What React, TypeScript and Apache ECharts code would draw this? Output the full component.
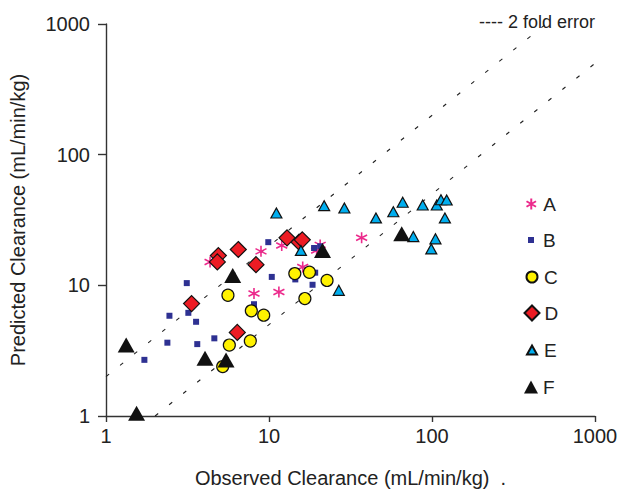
import React, { useEffect, useRef } from "react";
import * as echarts from "echarts";

const FONT = '"Liberation Sans", Arial, Helvetica, sans-serif';

const SERIES_NAMES = ["A", "B", "C", "D", "E", "F"];

const A_X = [4.35, 8.93, 11.97, 8.09, 11.5, 16.1, 20.6, 19.6, 37.0];
const A_Y = [15.1, 18.2, 20.2, 8.65, 8.9, 13.8, 20.4, 18.5, 23.1];

const B_X = [3.13, 2.45, 3.2, 3.57, 2.38, 1.72, 3.63, 4.62, 8.09, 9.9, 10.4, 14.5, 18.9, 20.6, 19.2, 18.5];
const B_Y = [10.4, 5.85, 6.16, 5.26, 3.64, 2.69, 3.55, 3.93, 7.17, 21.4, 11.6, 11.1, 19.3, 19.9, 12.5, 10.1];

const C_X = [5.6, 7.79, 9.28, 5.71, 7.68, 5.2, 14.4, 17.7, 16.6, 22.7];
const C_Y = [8.4, 6.38, 5.91, 3.49, 3.75, 2.39, 12.3, 12.6, 7.92, 10.9];

const D_X = [3.35, 4.89, 4.82, 6.48, 8.32, 6.39, 12.9, 15.3, 16.0];
const D_Y = [7.25, 16.9, 15.1, 18.8, 14.4, 4.36, 23.1, 21.4, 22.3];

const E_X = [11.1, 21.8, 29.0, 15.7, 26.8, 45.3, 57.9, 66.1, 87.7, 107, 113.5, 123, 120, 76.8, 105, 99];
const E_Y = [35.8, 40.7, 39.1, 18.5, 9.16, 32.8, 36.6, 43.2, 41.2, 41.2, 45.2, 45, 32.8, 23.6, 22.7, 19.0];

const F_X = [1.33, 1.54, 4.05, 5.45, 5.99, 21.3, 65.2];
const F_Y = [3.49, 1.05, 2.77, 2.68, 11.9, 18.5, 24.8];

const FOLD_UPPER = [[1, 2], [500, 1000]];
const FOLD_LOWER = [[2, 1], [1000, 500]];

const AXIS_MIN = 1;
const AXIS_MAX = 1000;

const X_TITLE = "Observed Clearance (mL/min/kg)  .";
const Y_TITLE = "Predicted Clearance (mL/min/kg)";
const FOLD_LABEL = "---- 2 fold error";

const zip = (xs: number[], ys: number[]) => xs.map((x, i) => [x, ys[i]]);

const ASTERISK = "path://M5,0L5,10M0.67,2.5L9.33,7.5M9.33,2.5L0.67,7.5";

export default function App() {
  const ref = useRef<HTMLDivElement>(null);

  useEffect(() => {
    if (!ref.current) return;
    const chart = echarts.init(ref.current, null, { renderer: "svg" });

    const styles: Record<string, any> = {
      A: { symbol: ASTERISK, symbolSize: 11, itemStyle: { color: "#ec2a8c", borderColor: "#ec2a8c", borderWidth: 1.6, opacity: 1 }, icon: [11, 11] },
      B: { symbol: "rect", symbolSize: 6, itemStyle: { color: "#2e3192", opacity: 1 }, icon: [6, 6] },
      C: { symbol: "circle", symbolSize: 12, itemStyle: { color: "#fff200", borderColor: "#111", borderWidth: 1.2, opacity: 1 }, icon: [11, 11] },
      D: { symbol: "diamond", symbolSize: 16, itemStyle: { color: "#ed1c24", borderColor: "#111", borderWidth: 1.2, opacity: 1 }, icon: [15, 15] },
      E: { symbol: "triangle", symbolSize: [11, 10], itemStyle: { color: "#00aeef", borderColor: "#111", borderWidth: 1.2, opacity: 1 }, icon: [10, 9] },
      F: { symbol: "triangle", symbolSize: [17, 15], itemStyle: { color: "#111", opacity: 1 }, icon: [14, 13] },
    };
    const dataMap: Record<string, number[][]> = {
      A: zip(A_X, A_Y),
      B: zip(B_X, B_Y),
      C: zip(C_X, C_Y),
      D: zip(D_X, D_Y),
      E: zip(E_X, E_Y),
      F: zip(F_X, F_Y),
    };
    const legendCenters = [204, 240, 277, 313, 350, 387];

    const foldStyle = { color: "#222", width: 1.1, type: [4, 14] as any };

    const option: any = {
      animation: false,
      textStyle: { fontFamily: FONT },
      grid: { left: 106, right: 26, top: 24, bottom: 75, containLabel: false },
      xAxis: {
        type: "log",
        logBase: 10,
        min: AXIS_MIN,
        max: AXIS_MAX,
        name: X_TITLE,
        nameLocation: "middle",
        nameGap: 52,
        nameTextStyle: { fontSize: 20, color: "#222", fontFamily: FONT },
        axisLine: { show: true, lineStyle: { color: "#333", width: 1.4 } },
        axisTick: { show: true, inside: false, length: 6, lineStyle: { color: "#333", width: 1.4 } },
        minorTick: { show: false },
        axisLabel: { fontSize: 20, color: "#222", margin: 10, fontFamily: FONT, formatter: (v: number) => String(v) },
        splitLine: { show: false },
      },
      yAxis: {
        type: "log",
        logBase: 10,
        min: AXIS_MIN,
        max: AXIS_MAX,
        name: Y_TITLE,
        nameLocation: "middle",
        nameGap: 78,
        nameRotate: 90,
        nameTextStyle: { fontSize: 20, color: "#222", fontFamily: FONT },
        axisLine: { show: true, lineStyle: { color: "#333", width: 1.4 } },
        axisTick: { show: true, inside: false, length: 8, lineStyle: { color: "#333", width: 1.4 } },
        axisLabel: { fontSize: 20, color: "#222", margin: 16, fontFamily: FONT, formatter: (v: number) => String(v) },
        splitLine: { show: false },
      },
      legend: SERIES_NAMES.map((n, i) => {
        const [w, h] = styles[n].icon;
        const padLeft = Math.max(0, 7 - w / 2);
        return {
          data: [n],
          orient: "vertical",
          left: 531 - w / 2,
          top: legendCenters[i] - 10,
          padding: 0,
          itemWidth: w,
          itemHeight: h,
          textStyle: { fontSize: 19, color: "#222", fontFamily: FONT, lineHeight: 20, padding: [0, 0, 0, padLeft] },
        };
      }),
      graphic: [
        {
          type: "text",
          right: 26,
          top: 13,
          style: { text: FOLD_LABEL, fontSize: 18, fill: "#222", fontFamily: FONT },
        },
      ],
      series: [
        {
          type: "line",
          name: "fold-upper",
          data: FOLD_UPPER,
          symbol: "none",
          lineStyle: foldStyle,
          silent: true,
          z: 1,
        },
        {
          type: "line",
          name: "fold-lower",
          data: FOLD_LOWER,
          symbol: "none",
          lineStyle: foldStyle,
          silent: true,
          z: 1,
        },
        ...SERIES_NAMES.map((n, i) => ({
          type: "scatter",
          name: n,
          data: dataMap[n],
          symbol: styles[n].symbol,
          symbolSize: styles[n].symbolSize,
          itemStyle: styles[n].itemStyle,
          z: 2 + i,
          clip: false,
        })),
      ],
    };

    chart.setOption(option);
    return () => chart.dispose();
  }, []);

  return <div ref={ref} style={{ position: "absolute", left: 0, top: 0, width: 621, height: 493 }} />;
}
